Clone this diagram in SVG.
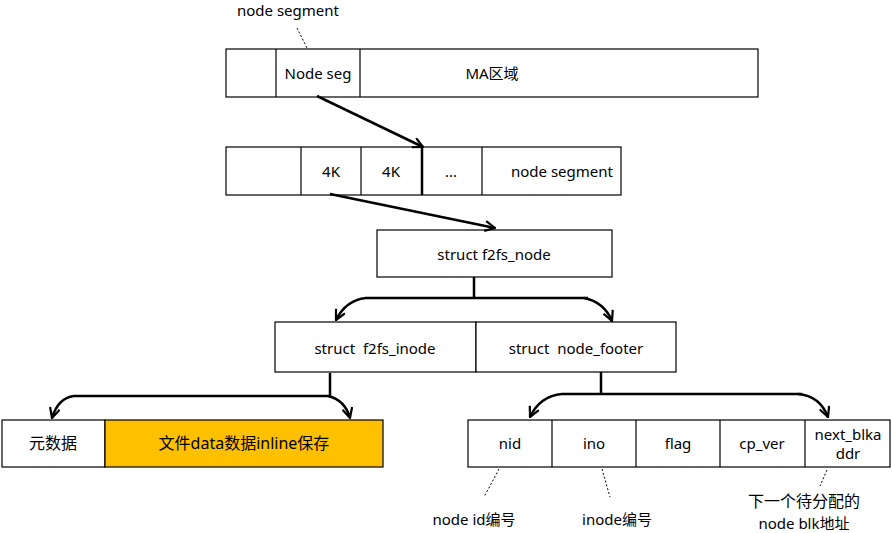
<svg xmlns="http://www.w3.org/2000/svg" width="892" height="533" viewBox="0 0 892 533">
<style>
.box{fill:#fff;stroke:#000;stroke-width:1.2}
.yel{fill:#FFC000;stroke:#000;stroke-width:1.2}
.ln{fill:none;stroke:#000;stroke-width:1.2}
.conn{fill:none;stroke:#000;stroke-width:2.5}
.dot{fill:none;stroke:#000;stroke-width:1;stroke-dasharray:2,2}
text{font-family:"Noto Sans","Noto Sans CJK SC",sans-serif;font-size:15px;fill:#000;text-anchor:middle;dominant-baseline:central;white-space:pre}
.big{font-size:16px}
</style>
<defs>
<marker id="ah" viewBox="0 0 12 12" refX="11" refY="6" markerWidth="12" markerHeight="12" markerUnits="userSpaceOnUse" orient="auto">
<path d="M1,1 L11,6 L1,11" fill="none" stroke="#000" stroke-width="2.2"/>
</marker>
</defs>

<g id="label-node-segment">
<text x="288" y="10">node segment</text>
<path class="dot" d="M297,28 L307,48"/>
</g>

<g id="main-area">
<rect class="box" x="226" y="49" width="532" height="48"/>
<line class="ln" x1="276" y1="49" x2="276" y2="97"/>
<line class="ln" x1="360" y1="49" x2="360" y2="97"/>
<text x="318" y="73">Node seg</text>
<text x="492" y="73">MA区域</text>
</g>

<g id="node-segment-row">
<rect class="box" x="226" y="147" width="395" height="48"/>
<line class="ln" x1="301" y1="147" x2="301" y2="195"/>
<line class="ln" x1="361" y1="147" x2="361" y2="195"/>
<line class="ln" x1="482" y1="147" x2="482" y2="195"/>
<line x1="422" y1="147" x2="422" y2="195" stroke="#000" stroke-width="2.5"/>
<text x="331" y="171">4K</text>
<text x="391" y="171">4K</text>
<text x="451" y="171">...</text>
<text x="562" y="171">node segment</text>
</g>

<g id="f2fs-node">
<rect class="box" x="377" y="230" width="235" height="47"/>
<text x="494" y="254">struct f2fs_node</text>
</g>

<g id="f2fs-inode">
<rect class="box" x="275" y="322" width="201" height="50"/>
<text x="375" y="348" xml:space="preserve">struct  f2fs_inode</text>
</g>

<g id="node-footer">
<rect class="box" x="476" y="322" width="200" height="50"/>
<text x="576" y="348" xml:space="preserve">struct  node_footer</text>
</g>

<g id="inode-parts">
<rect class="box" x="2" y="420" width="103" height="47"/>
<rect class="yel" x="105" y="420" width="278" height="47"/>
<text class="big" x="53" y="443">元数据</text>
<text class="big" x="244" y="443">文件data数据inline保存</text>
</g>

<g id="footer-fields">
<rect class="box" x="468" y="420" width="422" height="47"/>
<line class="ln" x1="552" y1="420" x2="552" y2="467"/>
<line class="ln" x1="636" y1="420" x2="636" y2="467"/>
<line class="ln" x1="720" y1="420" x2="720" y2="467"/>
<line class="ln" x1="805" y1="420" x2="805" y2="467"/>
<text x="510" y="443">nid</text>
<text x="594" y="443">ino</text>
<text x="678" y="443">flag</text>
<text x="762" y="443">cp_ver</text>
<text x="848" y="434">next_blka</text>
<text x="848" y="453">ddr</text>
</g>

<g id="annotations">
<path class="dot" d="M499,469 L484,497"/>
<path class="dot" d="M602,469 L610,497"/>
<path class="dot" d="M827,470 L820,486"/>
<text x="474" y="519">node id编号</text>
<text x="617" y="519">inode编号</text>
<text class="big" x="804" y="501">下一个待分配的</text>
<text x="804" y="523">node blk地址</text>
</g>

<g id="connectors">
<path class="conn" d="M317,96 L423,147" marker-end="url(#ah)"/>
<path class="conn" d="M330,194 L495,228" marker-end="url(#ah)"/>
<path class="conn" d="M474,277 V298"/>
<path class="conn" d="M588,298 H366 Q346,300 336,320" marker-end="url(#ah)"/>
<path class="conn" d="M584,298 Q604,302 612,321" marker-end="url(#ah)"/>
<path class="conn" d="M330,373 V396"/>
<path class="conn" d="M330,396 H74 Q58,398 52,418" marker-end="url(#ah)"/>
<path class="conn" d="M328,396 Q345,400 350,418" marker-end="url(#ah)"/>
<path class="conn" d="M601,372 V394"/>
<path class="conn" d="M802,394 H562 Q540,396 530,417" marker-end="url(#ah)"/>
<path class="conn" d="M798,394 Q820,396 828,417" marker-end="url(#ah)"/>
</g>
</svg>
